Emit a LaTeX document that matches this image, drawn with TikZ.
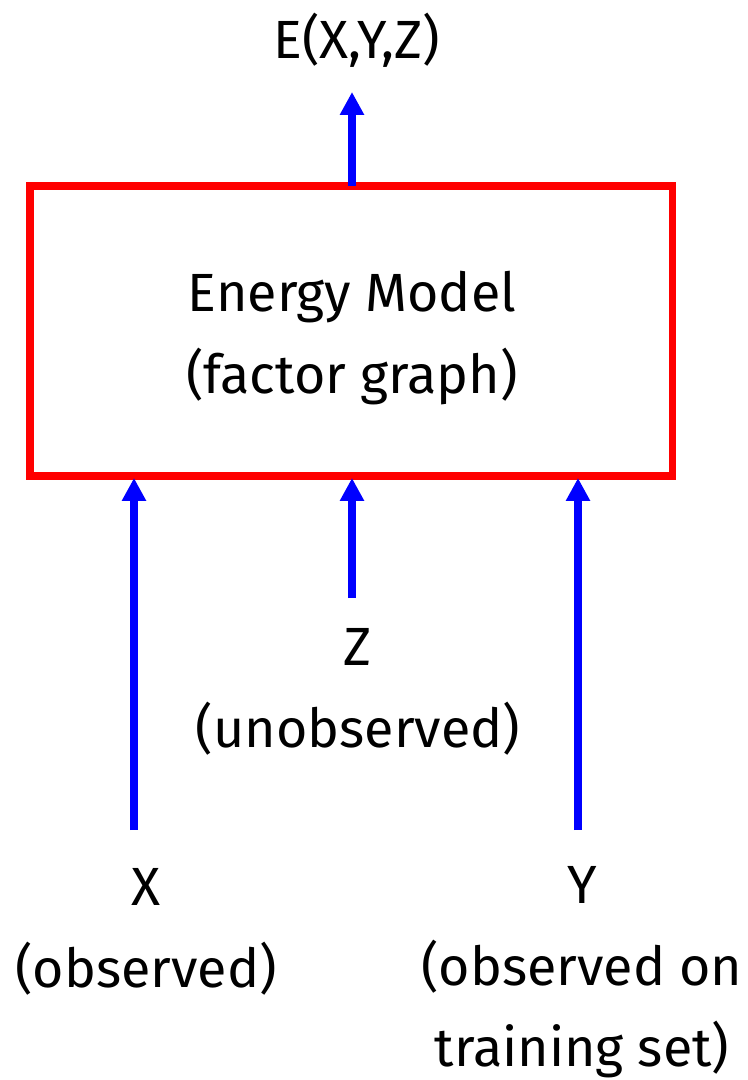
\documentclass[tikz,border=0pt]{standalone}
\usepackage{fontspec}
\setmainfont{Fira Sans}
\usetikzlibrary{arrows.meta}
\tikzset{
  flow/.style={blue,line width=2pt,-{Triangle[width=6.5pt,length=6.5pt]}},
  lbl/.style={align=center,font=\fontsize{15.3}{23.2}\selectfont,inner sep=0pt}
}
\begin{document}
\begin{tikzpicture}[x=0.01cm,y=-0.01cm]
\useasboundingbox (0,0) rectangle (747,1080);
% box
\draw[red,line width=2pt] (30,186) rectangle (672,476);
\coordinate (boxtop) at (352,186);
\node[lbl] (model) at (352,338) {Energy Model\\(factor graph)};
\node[lbl] (energy) at (357,40) {E(X,Y,Z)};
% variables
\node[lbl,anchor=north] (xlab) at (146,868) {X\\(observed)};
\node[lbl,anchor=north] (zlab) at (358,628) {Z\\(unobserved)};
\node[lbl,anchor=north] (ylab) at (582,866) {Y\\(observed on\\training set)};
\coordinate (xfoot) at (134,830); \coordinate (zfoot) at (352,598); \coordinate (yfoot) at (578,830);
\foreach \f in {xfoot,zfoot,yfoot} \draw[flow] (\f) -- (\f |- 0,478);
\draw[flow] (boxtop) -- (352,92);
\end{tikzpicture}
\end{document}
